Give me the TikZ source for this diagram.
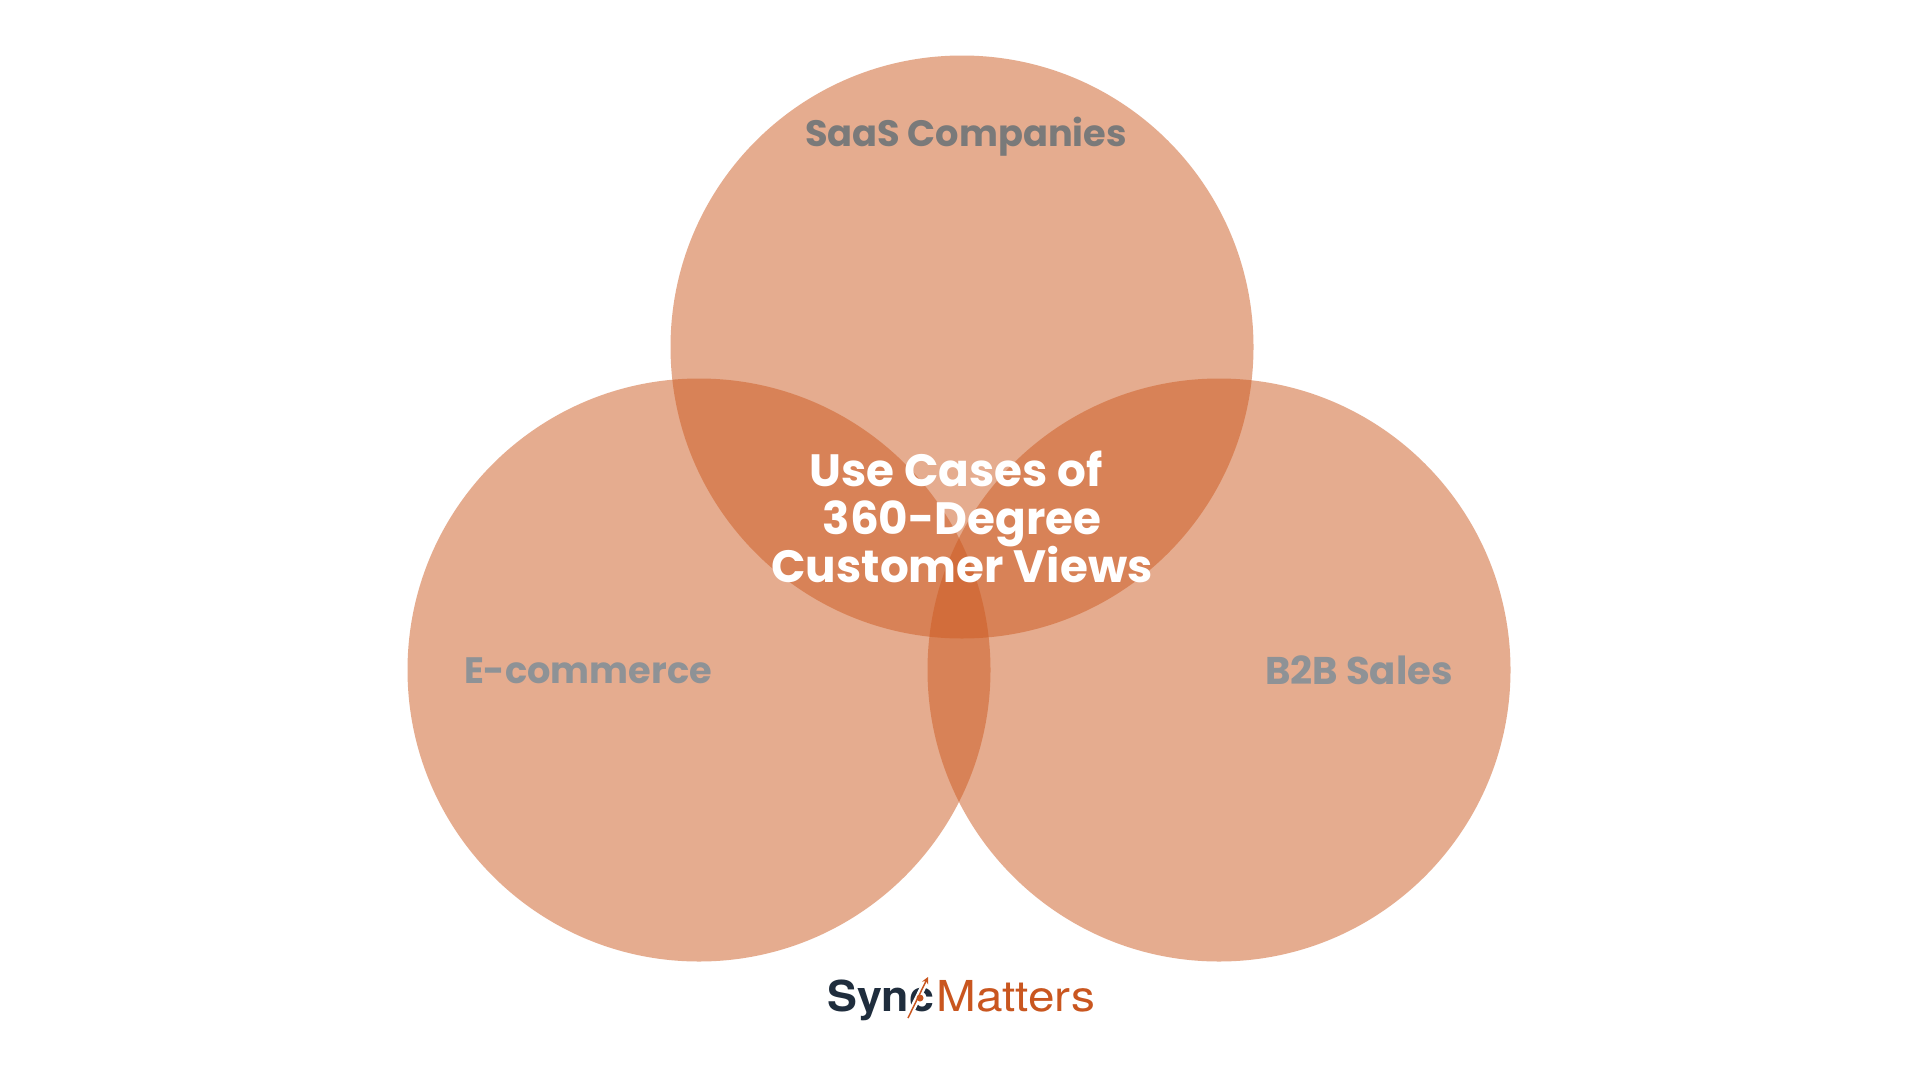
\documentclass[tikz,border=0pt]{standalone}
\usepackage{fontspec}
\usetikzlibrary{arrows.meta}
\setmainfont{Poppins}
\newfontfamily\logoboldfont[FakeStretch=1.05]{TeX Gyre Heros}
\newfontfamily\logolightfont[FakeStretch=1.12]{TeX Gyre Heros}
\newcommand\tightlines{\setlength{\lineskiplimit}{-30pt}}
\definecolor{venn}{HTML}{CD5A20}
\definecolor{lblA}{HTML}{7A7A7A}
\definecolor{lblB}{HTML}{8E9296}
\definecolor{navy}{HTML}{1F2D3D}
\definecolor{brand}{HTML}{C9561F}
\tikzset{px/.style={x=0.0264cm,y=-0.0264cm},
 vcirc/.style={fill=venn,fill opacity=0.5,draw=none},
 lab/.style={font=\fontsize{27.6}{30}\selectfont\bfseries,inner sep=0},
 ctr/.style={font=\fontsize{34}{36}\selectfont\bfseries\tightlines,text=white,align=center,inner sep=0},
 logotext/.style={inner sep=0,anchor=base west}}
\begin{document}
\begin{tikzpicture}[px]
\useasboundingbox (0,0) rectangle (1920,1080);
\fill[white] (0,0) rectangle (1920,1080);
\fill[vcirc] (962,347) circle (291.5);
\fill[vcirc] (699,670) circle (291.5);
\fill[vcirc] (1219,670) circle (291.5);
\node[lab,text=lblA] (saas) at (966,137) {SaaS Companies};
\node[lab,text=lblB] (ecom) at (588,671) {E-commerce};
\node[lab,text=lblB,font=\fontsize{29}{30}\selectfont\bfseries] (b2b) at (1359,670) {B2B Sales};
\node[ctr] (title) at (962,517) {Use Cases of\hspace*{9pt}\\360-Degree\\Customer Views};
\node[logotext,font=\logoboldfont\fontsize{32}{34}\selectfont\bfseries,text=navy] (sync) at (827,1011) {Sync};
\node[logotext,font=\logolightfont\fontsize{32}{34}\selectfont,text=brand] (matters) at (936,1011) {Matters};
\coordinate (arrowtail) at (908,1018);
\coordinate (arrowtip) at (928,977);
\draw[white,line width=4.5pt] (arrowtail) -- (arrowtip);
\draw[brand,line width=1.1pt,-{Stealth[length=5pt,width=5pt]}] (arrowtail) -- (arrowtip);
\fill[brand] (920,998) circle (3.5);
\end{tikzpicture}
\end{document}
